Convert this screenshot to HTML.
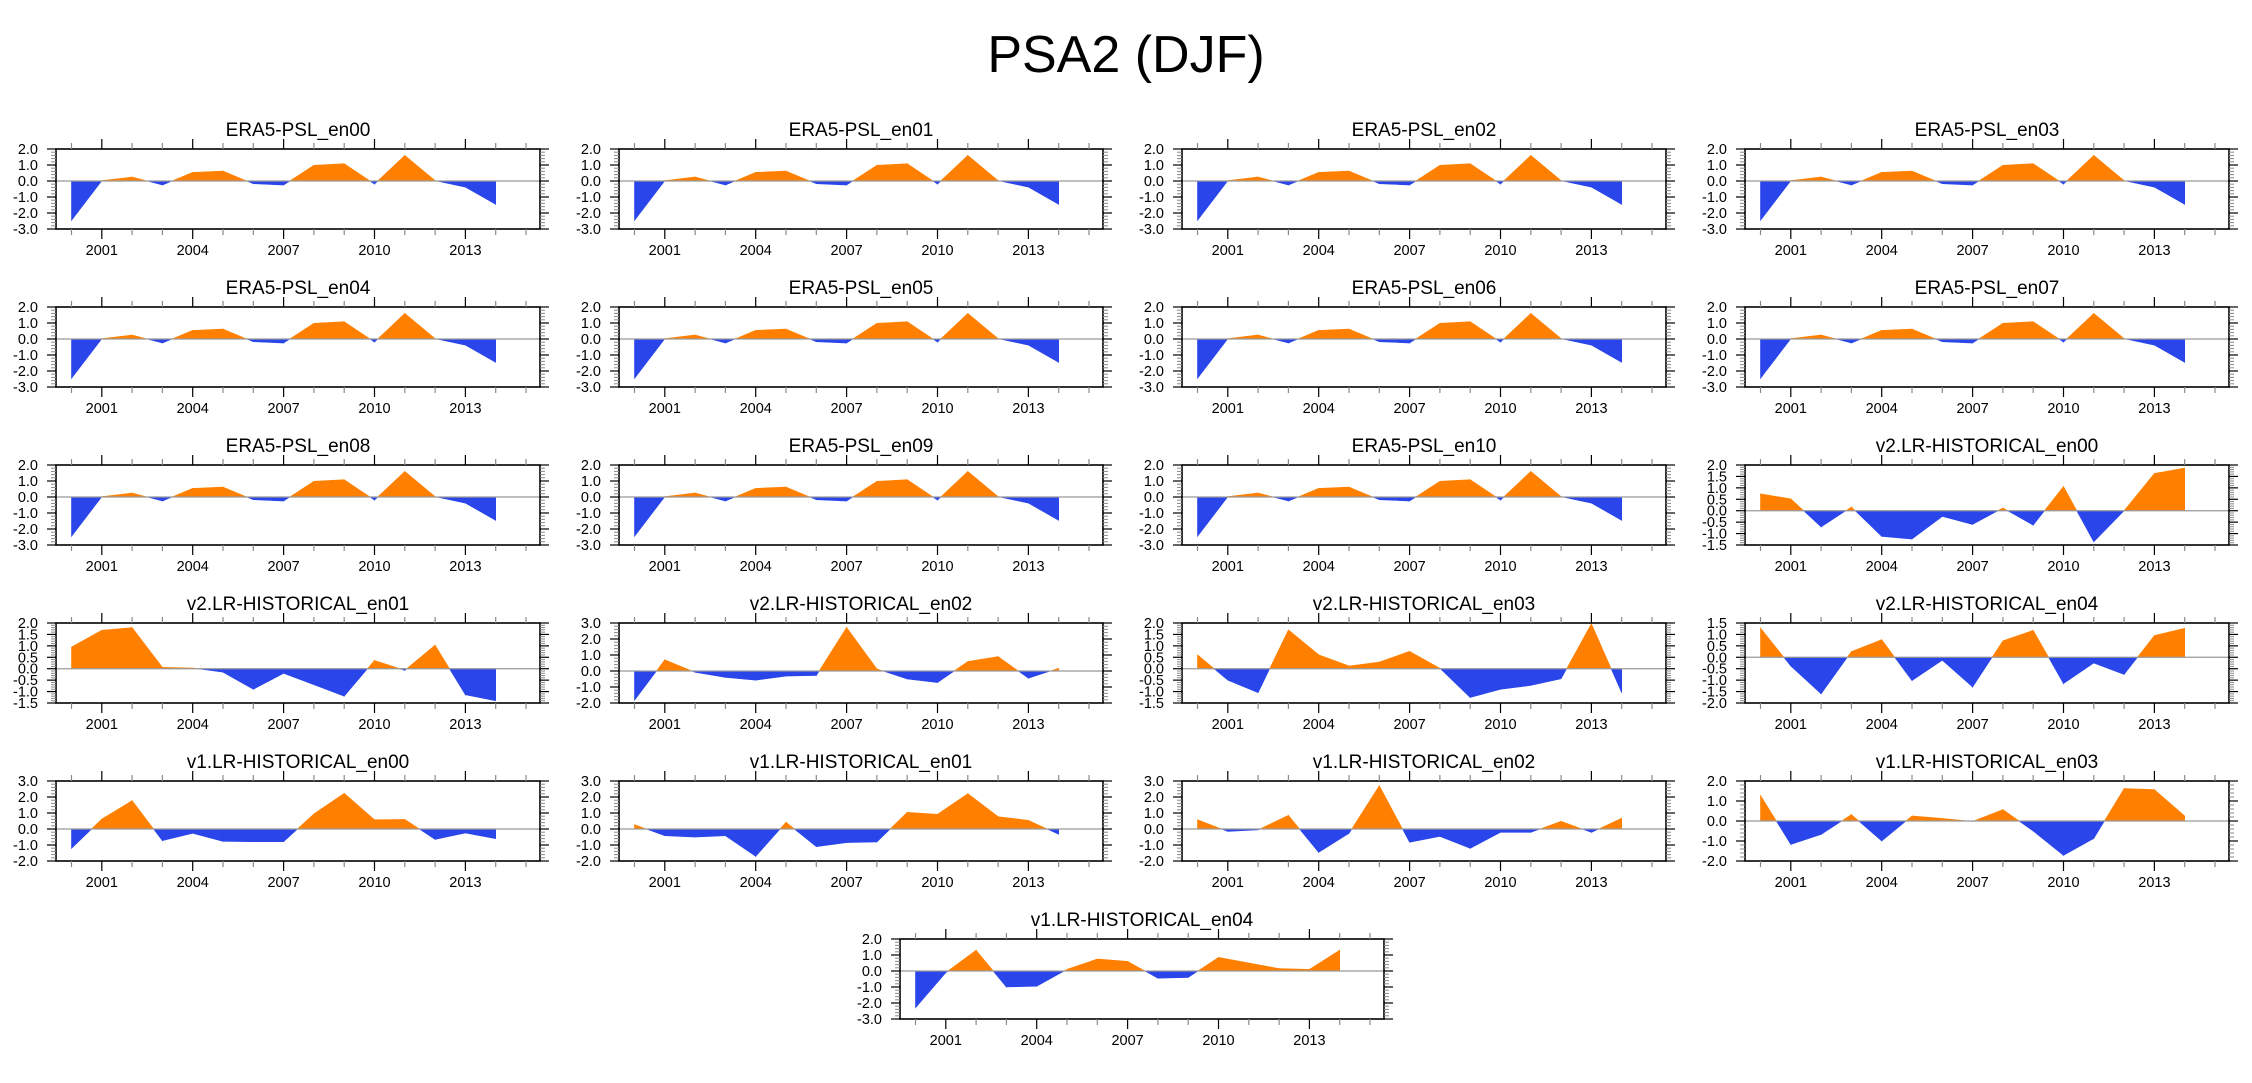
<!DOCTYPE html>
<html><head><meta charset="utf-8">
<style>
html,body{margin:0;padding:0;background:#fff;}
body{width:2252px;height:1078px;overflow:hidden;font-family:"Liberation Sans",sans-serif;}
</style></head>
<body>
<svg id="fig" width="2252" height="1078" xmlns="http://www.w3.org/2000/svg" font-family="Liberation Sans, sans-serif">
<text x="1126" y="72" font-size="52" text-anchor="middle">PSA2 (DJF)</text>
</svg>
<script>
const years = [2000,2001,2002,2003,2004,2005,2006,2007,2008,2009,2010,2011,2012,2013,2014];
const yearLabels = [2001,2004,2007,2010,2013];
const era5 = [-2.46,0.02,0.25,-0.25,0.54,0.62,-0.17,-0.25,0.98,1.08,-0.19,1.6,0.02,-0.38,-1.46];
const v2en00 = [0.74,0.52,-0.71,0.16,-1.12,-1.24,-0.25,-0.6,0.12,-0.63,1.06,-1.36,0.0,1.63,1.87];
const v2en01 = [0.95,1.68,1.8,0.06,0.03,-0.15,-0.9,-0.2,-0.7,-1.2,0.36,-0.07,1.03,-1.14,-1.4];
const v2en02 = [-1.83,0.7,-0.08,-0.4,-0.57,-0.32,-0.28,2.72,0.13,-0.5,-0.72,0.59,0.9,-0.45,0.17];
const v2en03 = [0.61,-0.5,-1.05,1.7,0.61,0.12,0.29,0.76,0.02,-1.26,-0.9,-0.73,-0.44,1.97,-1.05];
const v2en04 = [1.28,-0.38,-1.6,0.25,0.77,-1.02,-0.13,-1.3,0.72,1.18,-1.15,-0.25,-0.75,0.95,1.27];
const v1en00 = [-1.21,0.62,1.77,-0.73,-0.27,-0.77,-0.79,-0.79,0.94,2.23,0.58,0.6,-0.65,-0.25,-0.6];
const v1en01 = [0.27,-0.42,-0.5,-0.42,-1.71,0.42,-1.1,-0.85,-0.81,1.04,0.92,2.21,0.77,0.54,-0.33];
const v1en02 = [0.58,-0.15,-0.05,0.85,-1.46,-0.27,2.71,-0.83,-0.46,-1.21,-0.21,-0.21,0.48,-0.21,0.67];
const v1en03 = [1.28,-1.17,-0.67,0.32,-1.0,0.25,0.13,-0.02,0.57,-0.5,-1.72,-0.87,1.62,1.57,0.25];
const v1en04 = [-2.3,-0.1,1.3,-1.0,-0.95,0.1,0.75,0.6,-0.45,-0.4,0.85,0.5,0.15,0.1,1.3];
const titles = ["ERA5-PSL_en00","ERA5-PSL_en01","ERA5-PSL_en02","ERA5-PSL_en03","ERA5-PSL_en04","ERA5-PSL_en05","ERA5-PSL_en06","ERA5-PSL_en07","ERA5-PSL_en08","ERA5-PSL_en09","ERA5-PSL_en10","v2.LR-HISTORICAL_en00","v2.LR-HISTORICAL_en01","v2.LR-HISTORICAL_en02","v2.LR-HISTORICAL_en03","v2.LR-HISTORICAL_en04","v1.LR-HISTORICAL_en00","v1.LR-HISTORICAL_en01","v1.LR-HISTORICAL_en02","v1.LR-HISTORICAL_en03","v1.LR-HISTORICAL_en04"];
const seriesList = [era5,era5,era5,era5,era5,era5,era5,era5,era5,era5,era5,v2en00,v2en01,v2en02,v2en03,v2en04,v1en00,v1en01,v1en02,v1en03,v1en04];
const yMaxs = [2,2,2,2,2,2,2,2,2,2,2,2,2,3,2,1.5,3,3,3,2,2];
const yMins = [-3,-3,-3,-3,-3,-3,-3,-3,-3,-3,-3,-1.5,-1.5,-2,-1.5,-2,-2,-2,-2,-2,-3];
const ySteps = [1,1,1,1,1,1,1,1,1,1,1,0.5,0.5,1,0.5,0.5,1,1,1,1,1];

const NS="http://www.w3.org/2000/svg";
const svg=document.getElementById('fig');
function mk(tag,attrs,parent){const e=document.createElementNS(NS,tag);for(const k in attrs)e.setAttribute(k,attrs[k]);(parent||svg).appendChild(e);return e;}

const W=484,H=80;
function panel(i,left,top){
  const g=mk('g',{});
  
  
  const data=seriesList[i],ymax=yMaxs[i],ymin=yMins[i],step=ySteps[i];
  const xs=yr=>left+15.5+(yr-2000)*30.3;
  const ys=v=>top+(ymax-v)/(ymax-ymin)*H;
  const t=mk('text',{x:left+W/2,y:top-13,'font-size':19,'text-anchor':'middle'},g);
  t.textContent=titles[i];
  
  
  // fills
  const y0=ys(0);
  for(let k=0;k<years.length-1;k++){
    const xa=xs(years[k]),xb=xs(years[k+1]),va=data[k],vb=data[k+1];
    const segs=[];
    if((va>=0&&vb>=0)||(va<=0&&vb<=0)){segs.push([xa,va,xb,vb]);}
    else{const f=va/(va-vb);const xc=xa+f*(xb-xa);segs.push([xa,va,xc,0]);segs.push([xc,0,xb,vb]);}
    segs.forEach(s=>{
      const pos=(s[1]+s[3])>=0;
      const p=mk('polygon',{points:`${s[0]},${y0} ${s[0]},${ys(s[1])} ${s[2]},${ys(s[3])} ${s[2]},${y0}`,fill:pos?'#ff8000':'#2a45ea',stroke:pos?'#ff8000':'#2a45ea','stroke-width':0.6},g);
      
      
    });
  }
  const zl=mk('line',{x1:left,x2:left+W,y1:y0,y2:y0,stroke:'#999','stroke-width':1.2},g);
  
  
  // frame
  const fr=mk('rect',{x:left,y:top,width:W,height:H,fill:'none',stroke:'#000','stroke-width':1.6},g);
  
  
  // x ticks
  for(let yr=2000;yr<=2015;yr++){
    const x=xs(yr),major=yearLabels.includes(yr),L=major?10:6;
    mk('line',{x1:x,x2:x,y1:top,y2:top-L,stroke:major?'#000':'#888','stroke-width':1.2},g);
    mk('line',{x1:x,x2:x,y1:top+H,y2:top+H+L,stroke:major?'#000':'#888','stroke-width':1.2},g);
  }
  yearLabels.forEach(yr=>{
    const tl=mk('text',{x:xs(yr),y:top+H+26,'font-size':14.5,'text-anchor':'middle'},g);
    tl.textContent=yr;
    
    
  });
  // y ticks
  const n=Math.round((ymax-ymin)/step);
  for(let j=0;j<=n;j++){
    const v=ymax-j*step,y=ys(v);
    mk('line',{x1:left,x2:left-9,y1:y,y2:y,stroke:'#000','stroke-width':1.2},g);
    mk('line',{x1:left+W,x2:left+W+9,y1:y,y2:y,stroke:'#000','stroke-width':1.2},g);
    const yl=mk('text',{x:left-18,y:y+5,'font-size':14.5,'text-anchor':'end'},g);
    yl.textContent=v.toFixed(1);
    
    
    if(j<n){for(let m=1;m<5;m++){const ym=y+m*(H/n)/5;
      mk('line',{x1:left,x2:left-5,y1:ym,y2:ym,stroke:'#888','stroke-width':1},g);
      mk('line',{x1:left+W,x2:left+W+5,y1:ym,y2:ym,stroke:'#888','stroke-width':1},g);}}
  }
}
const lefts=[56,619,1182,1745];
for(let i=0;i<20;i++){panel(i,lefts[i%4],149+Math.floor(i/4)*158);}
panel(20,900,939);
</script>
</body></html>
